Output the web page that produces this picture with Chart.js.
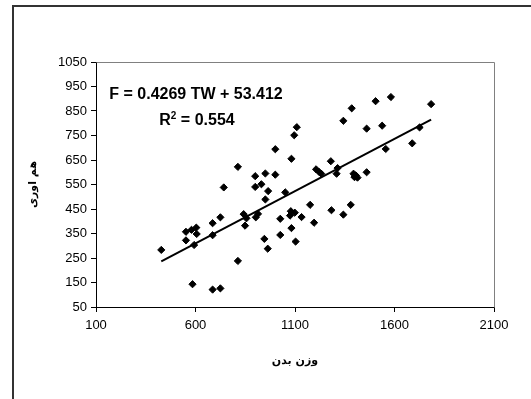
<!DOCTYPE html>
<html>
<head>
<meta charset="utf-8">
<script src="https://cdn.jsdelivr.net/npm/chart.js@4/dist/chart.umd.min.js"></script>
<style>
  html, body { margin: 0; padding: 0; background: #fff; }
  #wrap { position: relative; width: 531px; height: 399px; }
  canvas { display: block; }
</style>
</head>
<body>
<div id="wrap"><canvas id="c" width="531" height="399"></canvas></div>
<script>
// Body weight (x) and the measured response (y) for each sample
const bodyWeight = [
  428, 552, 552, 580, 593, 604, 606, 585, 686, 686,
  725, 742, 686, 725, 813, 813, 842, 849, 856, 900,
  900, 903, 914, 931, 951, 951, 965, 946, 963, 1001,
  1001, 1026, 1026, 1051, 1082, 1096, 1109, 1079, 1075, 1082,
  1099, 1103, 1133, 1176, 1196, 1206, 1220, 1232, 1280, 1283,
  1309, 1314, 1343, 1343, 1385, 1380, 1394, 1399, 1406, 1414,
  1460, 1460, 1505, 1538, 1556, 1582, 1689, 1726, 1784
];
const response = [
  283, 357, 322, 365, 303, 374, 348, 143, 392, 343,
  416, 538, 121, 126, 622, 238, 429, 382, 412, 584,
  540, 416, 430, 551, 595, 489, 523, 328, 288, 694,
  590, 410, 344, 518, 655, 751, 784, 441, 423, 372,
  435, 317, 417, 467, 394, 612, 602, 594, 645, 445,
  594, 617, 810, 427, 861, 467, 594, 580, 587, 578,
  778, 600, 890, 790, 695, 907, 718, 783, 878
];

// Linear fit reported on the chart
const slope = 0.4269;
const intercept = 53.412;
const rSquared = 0.554;

// Axis tick values
const xTicks = [100, 600, 1100, 1600, 2100];
const yTicks = [50, 150, 250, 350, 450, 550, 650, 750, 850, 950, 1050];

const xTitle = 'وزن بدن';
const yTitle = 'هم اوری';

const points = bodyWeight.map((x, i) => ({ x: x, y: response[i] }));
const xMin = Math.min(...bodyWeight);
const xMax = Math.max(...bodyWeight);
const fitLine = [xMin, xMax].map(x => ({ x: x, y: slope * x + intercept }));

const FONT = '"Liberation Sans", Arial, sans-serif';
const EQ_SIZE = 16;

// Outer frame, plot-area border and the fit equation
const decorations = {
  id: 'decorations',
  beforeDraw(chart) {
    const ctx = chart.ctx;
    ctx.save();
    ctx.strokeStyle = '#333';
    ctx.lineWidth = 2;
    ctx.beginPath();
    ctx.moveTo(13, 399);
    ctx.lineTo(13, 6);
    ctx.lineTo(531, 6);
    ctx.stroke();
    ctx.restore();
  },
  afterDatasetsDraw(chart) {
    const ctx = chart.ctx;
    const a = chart.chartArea;
    ctx.save();
    ctx.strokeStyle = '#808080';
    ctx.lineWidth = 1;
    ctx.beginPath();
    ctx.moveTo(Math.round(a.left) + 0.5, Math.round(a.top) + 0.5);
    ctx.lineTo(Math.round(a.right) + 0.5, Math.round(a.top) + 0.5);
    ctx.lineTo(Math.round(a.right) + 0.5, Math.round(a.bottom) + 0.5);
    ctx.stroke();

    ctx.fillStyle = '#000';
    ctx.font = 'bold ' + EQ_SIZE + 'px ' + FONT;
    ctx.textBaseline = 'middle';
    ctx.textAlign = 'center';
    const cx = a.left + 100;
    ctx.fillText('F = ' + slope + ' TW + ' + intercept, cx, a.top + 33);

    // R² line with a raised 2
    const partR = 'R';
    const partRest = ' = ' + rSquared;
    const wR = ctx.measureText(partR).width;
    const wRest = ctx.measureText(partRest).width;
    ctx.font = 'bold 10px ' + FONT;
    const wSup = ctx.measureText('2').width;
    const total = wR + wSup + wRest;
    const x0 = cx + 1 - total / 2;
    const y0 = a.top + 59;
    ctx.textAlign = 'left';
    ctx.font = 'bold ' + EQ_SIZE + 'px ' + FONT;
    ctx.fillText(partR, x0, y0);
    ctx.font = 'bold 10px ' + FONT;
    ctx.fillText('2', x0 + wR, y0 - 5);
    ctx.font = 'bold ' + EQ_SIZE + 'px ' + FONT;
    ctx.fillText(partRest, x0 + wR + wSup, y0);
    ctx.restore();
  }
};

new Chart(document.getElementById('c'), {
  type: 'scatter',
  data: {
    datasets: [
      {
        label: 'samples',
        data: points,
        pointStyle: 'rectRot',
        pointRadius: 3.6,
        pointBackgroundColor: '#000',
        pointBorderColor: '#000',
        pointBorderWidth: 1,
        order: 2
      },
      {
        label: 'fit',
        data: fitLine,
        showLine: true,
        borderColor: '#000',
        borderWidth: 2,
        pointRadius: 0,
        order: 1
      }
    ]
  },
  options: {
    responsive: false,
    animation: false,
    devicePixelRatio: 1,
    layout: { padding: { top: 62, right: 37, left: 0, bottom: 0 } },
    plugins: {
      legend: { display: false },
      tooltip: { enabled: false }
    },
    scales: {
      x: {
        type: 'linear',
        min: xTicks[0],
        max: xTicks[xTicks.length - 1],
        afterBuildTicks: s => { s.ticks = xTicks.map(v => ({ value: v })); },
        afterFit: s => { s.height = 92; },
        grid: { display: true, drawOnChartArea: false, drawTicks: true, tickLength: 5, color: '#000' },
        border: { display: true, color: '#000', width: 1 },
        ticks: {
          color: '#000', font: { family: FONT, size: 13 }, padding: 6, maxRotation: 0,
          callback: v => String(v)
        },
        title: {
          display: true,
          text: xTitle,
          color: '#000',
          font: { family: '"DejaVu Sans", sans-serif', size: 11, weight: 'bold' },
          padding: { top: 0, bottom: 31 }
        }
      },
      y: {
        type: 'linear',
        min: yTicks[0],
        max: yTicks[yTicks.length - 1],
        afterBuildTicks: s => { s.ticks = yTicks.map(v => ({ value: v })); },
        afterFit: s => { s.width = 96; },
        grid: { display: true, drawOnChartArea: false, drawTicks: true, tickLength: 5, color: '#000' },
        border: { display: true, color: '#000', width: 1 },
        ticks: {
          color: '#000', font: { family: FONT, size: 13 }, padding: 4,
          callback: v => String(v)
        },
        title: {
          display: true,
          text: yTitle,
          color: '#000',
          font: { family: '"DejaVu Sans", sans-serif', size: 11, weight: 'bold' },
          padding: { top: 27, bottom: 0 }
        }
      }
    }
  },
  plugins: [decorations]
});
</script>
</body>
</html>
